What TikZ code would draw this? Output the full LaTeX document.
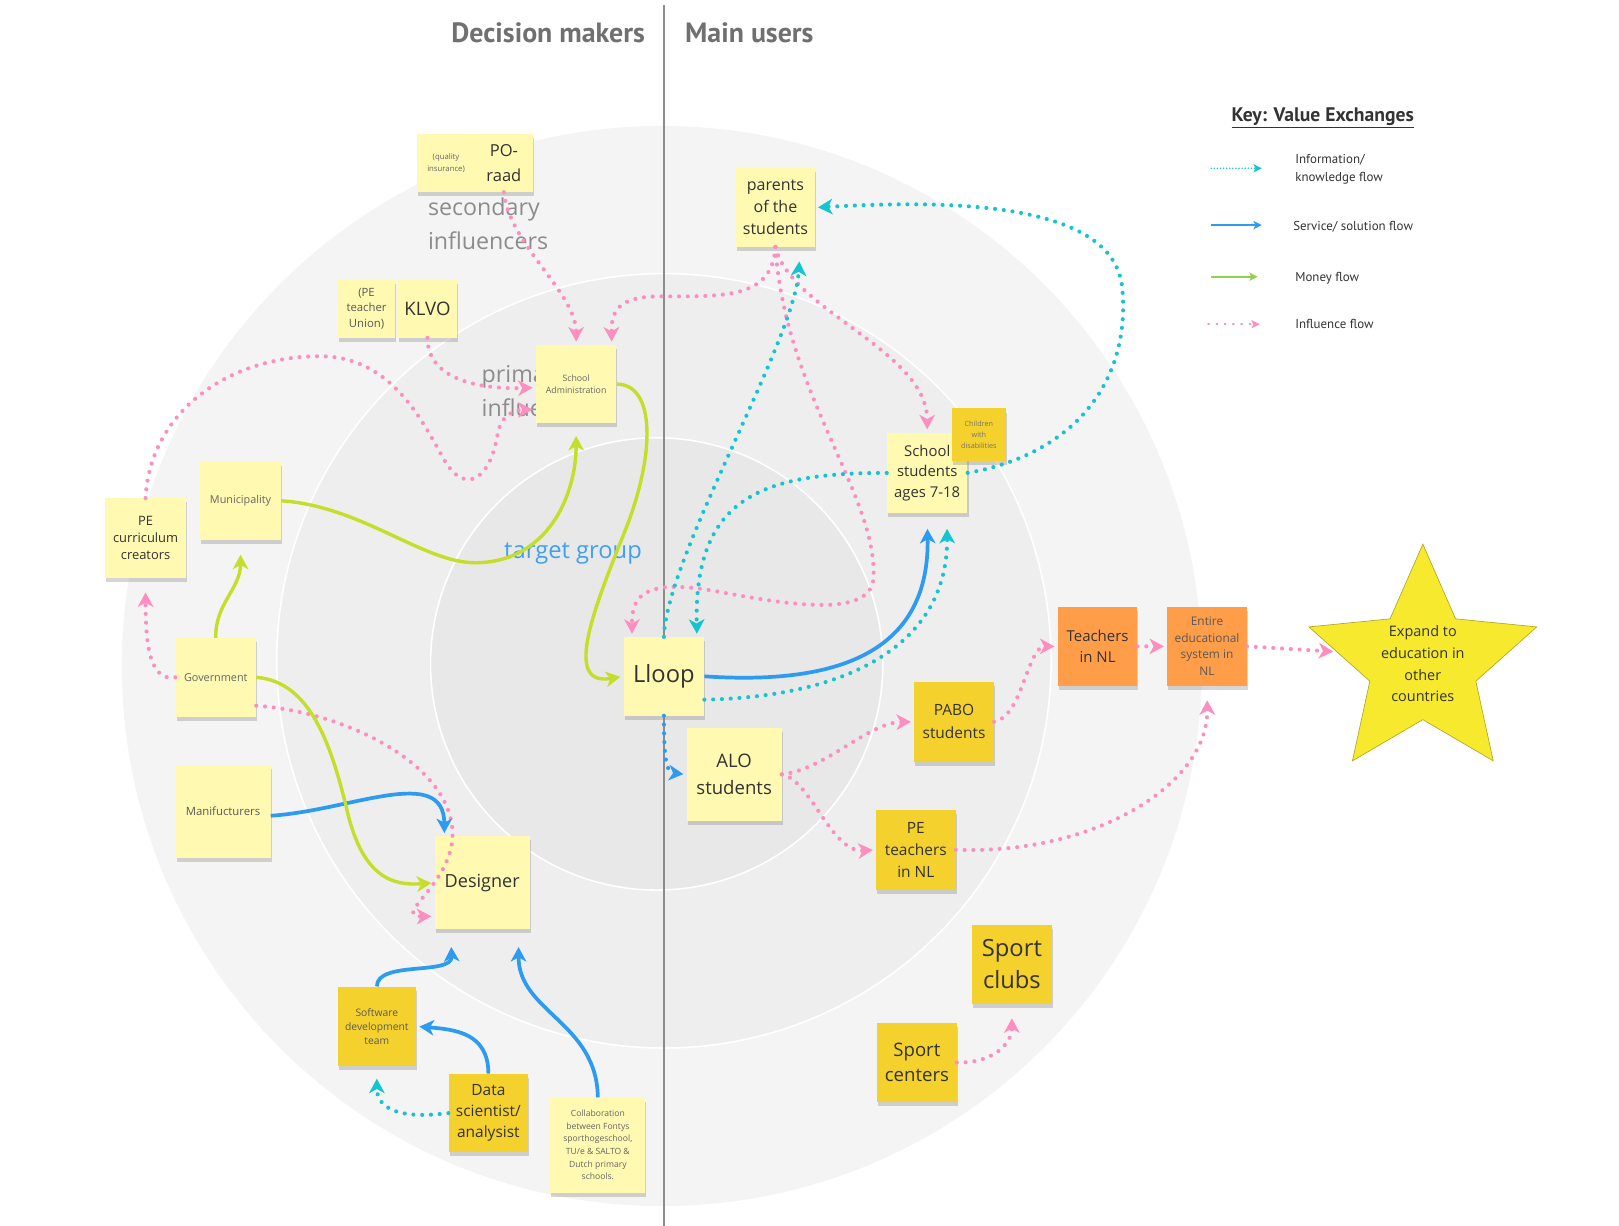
\documentclass[tikz,border=0pt]{standalone}
\usepackage{fontspec}
\setmainfont{Open Sans}
\newfontfamily\keyfont{PT Sans}
\usepackage{tikz}
\usetikzlibrary{shapes.geometric, arrows.meta, shadows}
\definecolor{noteyel}{RGB}{255,249,177}
\definecolor{notegold}{RGB}{245,209,45}
\definecolor{noteorange}{RGB}{255,157,72}
\definecolor{starcol}{RGB}{247,234,46}
\definecolor{ringout}{RGB}{244,244,244}
\definecolor{ringmid}{RGB}{238,238,238}
\definecolor{ringin}{RGB}{232,232,232}
\definecolor{inflcol}{RGB}{252,143,192}
\definecolor{infocol}{RGB}{20,196,208}
\definecolor{servcol}{RGB}{45,155,240}
\definecolor{moneycol}{RGB}{196,222,42}
\definecolor{keygreen}{RGB}{143,209,79}
\definecolor{inkcol}{RGB}{51,51,51}
\definecolor{headcol}{RGB}{112,112,112}
\definecolor{targetcol}{RGB}{63,160,240}
\newcommand{\fsz}[2]{\fontsize{#1}{#2}\selectfont}

\begin{document}
\begin{tikzpicture}[
    x=1pt, y=-1pt,
    >={Stealth[length=14pt, width=15pt, inset=4pt]},
    %% ── Sticky notes ──
    note/.style={rectangle, inner sep=2pt, align=center, text=inkcol,
        drop shadow={shadow xshift=1pt, shadow yshift=-4pt, opacity=0.32}},
    pale/.style={note, fill=noteyel},
    gold/.style={note, fill=notegold},
    hot/.style={note, fill=noteorange},
    wh/.style 2 args={minimum width=#1, minimum height=#2},
    %% ── Ring labels and headers ──
    ringtext/.style={anchor=west, align=left, text=black!45, font=\fsz{22.5}{33}},
    header/.style={text=headcol, font=\keyfont\bfseries\fsz{27}{30}},
    %% ── Value exchange connectors ──
    dots/.style={line width=4pt, dash pattern=on 0pt off 8.5pt, line cap=round},
    influ/.style={->, dots, color=inflcol, shorten >=3pt},
    info/.style={->, dots, color=infocol, shorten >=3pt},
    servdot/.style={->, dots, color=servcol, shorten >=3pt},
    serv/.style={->, line width=3.6pt, color=servcol, shorten >=3pt},
    money/.style={->, line width=3.3pt, color=moneycol, shorten >=3pt},
    %% ── Key ──
    keyarrow/.style={>={Stealth[length=8pt, width=8pt, inset=2pt]}},
    keytext/.style={anchor=west, align=left, text=inkcol, font=\keyfont\fsz{12.5}{17}},
]

\fill[white] (0,0) rectangle (1568,1187);
\useasboundingbox (0,0) rectangle (1568,1187);

% ── Rings ──
\fill[ringout] (641,645) circle[radius=523];
\filldraw[fill=ringmid, draw=white, line width=1.5pt] (643,640) circle[radius=375];
\filldraw[fill=ringin, draw=white, line width=1.5pt] (636,643) circle[radius=219];

% ── Divider and headers ──
\draw[black!45, line width=1.5pt] (643,5) -- (643,1187);
\node[header, anchor=east] (deciders) at (628,32) {Decision makers};
\node[header, anchor=west] (users)    at (660,32) {Main users};

\node[ringtext] (secinfl)  at (411,217) {secondary\\influencers};
\node[ringtext] (priminfl) at (463,379) {primary\\influencers};
\node[text=targetcol, font=\fsz{23}{26}] (target) at (555,536) {target group};

% ── Decision makers ──
\node[pale, wh={56}{56}, text=black!60, font=\fsz{7.5}{11}] (quality) at (432,158) {(quality\\insurance)};
\node[pale, wh={56}{56}, font=\fsz{16}{24}] (poraad) at (488,158) {PO-\\raad};
\node[pale, wh={56}{56}, text=black!65, font=\fsz{11}{15}] (peunion) at (355,299) {(PE\\teacher\\Union)};
\node[pale, wh={58}{56}, font=\fsz{18}{20}] (klvo) at (414,299) {KLVO};
\node[pale, wh={78}{76}, text=black!60, font=\fsz{8.5}{12}] (schooladm) at (558,372) {School\\Administration};
\node[pale, wh={78}{77}, font=\fsz{12.5}{16.5}] (pecurr) at (141,521) {PE\\curriculum\\creators};
\node[pale, wh={78}{76}, text=black!60, font=\fsz{10.5}{12}] (munic) at (233,485) {Municipality};
\node[pale, wh={78}{76}, text=black!60, font=\fsz{10.5}{12}] (govt) at (209,656) {Government};
\node[pale, wh={92}{90}, text=black!65, font=\fsz{11}{13}] (manuf) at (216,786) {Manifucturers};
\node[pale, wh={92}{90}, font=\fsz{17.5}{20}] (designer) at (467,855) {Designer};
\node[gold, wh={76}{77}, text=black!65, font=\fsz{10}{13.5}] (softdev) at (365,994) {Software\\development\\team};
\node[gold, wh={77}{76}, font=\fsz{15}{20.5}] (datasci) at (473,1078) {Data\\scientist/\\analysist};
\node[pale, wh={92}{92}, text=black!60, font=\fsz{8.3}{12.2}] (collab) at (579,1109)
    {Collaboration\\between Fontys\\sporthogeschool,\\TU/e \& SALTO \&\\Dutch primary\\schools.};

% ── Main users ──
\node[pale, wh={78}{76}, font=\fsz{23}{26}] (lloop) at (643,655) {Lloop};
\node[pale, wh={76}{76}, font=\fsz{15.5}{21.5}] (parents) at (751,201) {parents\\of the\\students};
\node[pale, wh={78}{78}, font=\fsz{14.4}{20}] (students) at (898,458) {School\\students\\ages 7-18};
\node[gold, wh={52}{51}, text=black!55, font=\fsz{7}{11}] (disab) at (948,421) {Children\\with\\disabilities};
\node[pale, wh={92}{90}, font=\fsz{18}{26}] (alo) at (711,750) {ALO\\students};
\node[gold, wh={77}{77}, font=\fsz{15}{22}] (pabo) at (924,699) {PABO\\students};
\node[gold, wh={77}{77}, font=\fsz{15}{21.5}] (peteach) at (887,823) {PE\\teachers\\in NL};
\node[hot, wh={77}{77}, font=\fsz{14.5}{21}] (teachnl) at (1063,626) {Teachers\\in NL};
\node[hot, wh={77}{76}, text=black!65, font=\fsz{11.5}{16}] (entire) at (1169,626) {Entire\\educational\\system in\\NL};
\node[gold, wh={77}{76}, font=\fsz{23}{31}] (clubs) at (980,934) {Sport\\clubs};
\node[gold, wh={77}{77}, font=\fsz{18}{24}] (centers) at (888,1029) {Sport\\centers};
\node[star, star points=5, star point ratio=2.15, minimum size=232, inner sep=0pt,
      fill=starcol, draw=starcol!70!black, line width=0.6pt] (expand) at (1378,643) {};
\node[align=center, text=inkcol, font=\fsz{14}{21}] (expandtxt) at (expand.center)
    {Expand to\\education in\\other\\countries};

% ── Influence flows ──
\draw[influ] (poraad.south) .. controls +(5,50) and +(0,-50) .. (schooladm.north);
\draw[influ] (parents.south) .. controls (748,290) and (700,287) .. (640,287)
    .. controls (600,287) and (592,300) .. (schooladm.48);
\draw[influ] (parents.south) .. controls (765,300) and (898,340) .. (students.north);
\draw[influ] (parents.south) .. controls (760,380) and (850,480) .. (846,560)
    .. controls (843,600) and (760,585) .. (690,572)
    .. controls (620,560) and (612,580) .. (lloop.129);
\draw[influ] (klvo.south) .. controls (414,370) and (470,377) .. (schooladm.185);
\draw[influ] (pecurr.north) .. controls (145,400) and (220,345) .. (310,345)
    .. controls (380,345) and (410,410) .. (430,445)
    .. controls (450,480) and (475,465) .. (482,420)
    .. controls (486,400) and (500,397) .. (schooladm.212);
\draw[influ, shorten >=14pt] (govt.west) .. controls (145,660) and (141,625) .. (pecurr.south);
\draw[influ] (govt.325) .. controls (340,690) and (445,745) .. (438,815)
    .. controls (432,860) and (380,888) .. (designer.215);
\draw[influ] (alo.east) .. controls (800,745) and (840,700) .. (pabo.west);
\draw[influ] (alo.east) .. controls (785,755) and (805,826) .. (peteach.west);
\draw[influ] (pabo.east) .. controls (990,695) and (995,626) .. (teachnl.west);
\draw[influ] (teachnl.east) -- (entire.west);
\draw[influ] (entire.east) -- (expand.172);
\draw[influ, shorten >=14pt] (peteach.east) .. controls (1060,828) and (1170,760) .. (entire.south);
\draw[influ, shorten >=14pt] (centers.east) .. controls (960,1030) and (980,1012) .. (clubs.south);

% ── Information flows ──
\draw[info, shorten >=14pt] (lloop.north) .. controls (645,540) and (770,330) .. (parents.302);
\draw[info] (students.west) .. controls (740,458) and (672,480) .. (lloop.50);
\draw[info] (students.east) .. controls (1040,440) and (1095,370) .. (1087,280)
    .. controls (1080,190) and (900,195) .. (parents.east);
\draw[info, shorten >=15pt] (lloop.330) .. controls (820,675) and (918,625) .. (students.296);
\draw[info, shorten >=12pt] (datasci.west) .. controls (380,1085) and (365,1070) .. (softdev.south);

% ── Service flows ──
\draw[serv, shorten >=15pt] (lloop.east) .. controls (830,665) and (900,620) .. (students.south);
\draw[servdot] (lloop.south) .. controls (643,735) and (645,748) .. (alo.west);
\draw[serv] (manuf.355) .. controls (340,785) and (430,740) .. (designer.129);
\draw[serv, shorten >=17pt] (softdev.north) .. controls (365,930) and (438,945) .. (designer.236);
\draw[serv] (datasci.north) .. controls (473,1000) and (440,997) .. (softdev.east);
\draw[serv, shorten >=17pt] (collab.north) .. controls (578,990) and (502,980) .. (designer.308);

% ── Money flows ──
\draw[money] (schooladm.east) .. controls (635,372) and (635,440) .. (605,515)
    .. controls (575,590) and (545,665) .. (lloop.west);
\draw[money, shorten >=12pt] (munic.east) .. controls (350,490) and (410,545) .. (460,545)
    .. controls (530,545) and (558,480) .. (schooladm.south);
\draw[money, shorten >=14pt] (govt.north) .. controls (208,585) and (233,570) .. (munic.south);
\draw[money] (govt.east) .. controls (300,660) and (320,720) .. (335,780)
    .. controls (350,850) and (380,858) .. (designer.west);

% ── Key ──
\node[text=inkcol, font=\keyfont\bfseries\fsz{19}{22}] (keytitle) at (1281,114) {\underline{Key: Value Exchanges}};
\coordinate (k1a) at (1173,163); \coordinate (k1b) at (1222,163);
\coordinate (k2a) at (1173,218); \coordinate (k2b) at (1222,218);
\coordinate (k3a) at (1173,268); \coordinate (k3b) at (1218,268);
\coordinate (k4a) at (1170,314); \coordinate (k4b) at (1220,314);
\draw[keyarrow, ->, infocol, line width=1.6pt, dash pattern=on 0pt off 3pt, line cap=round] (k1a) -- (k1b);
\draw[keyarrow, ->, servcol, line width=2pt] (k2a) -- (k2b);
\draw[keyarrow, ->, keygreen, line width=2pt] (k3a) -- (k3b);
\draw[keyarrow, ->, inflcol, line width=1.6pt, dash pattern=on 1pt off 7pt, line cap=round] (k4a) -- (k4b);
\node[keytext] (k1t) at (1251,164) {Information/\\knowledge flow};
\node[keytext] (k2t) at (1249,220) {Service/ solution flow};
\node[keytext] (k3t) at (1251,269) {Money flow};
\node[keytext] (k4t) at (1251,314) {Influence flow};

\end{tikzpicture}
\end{document}
